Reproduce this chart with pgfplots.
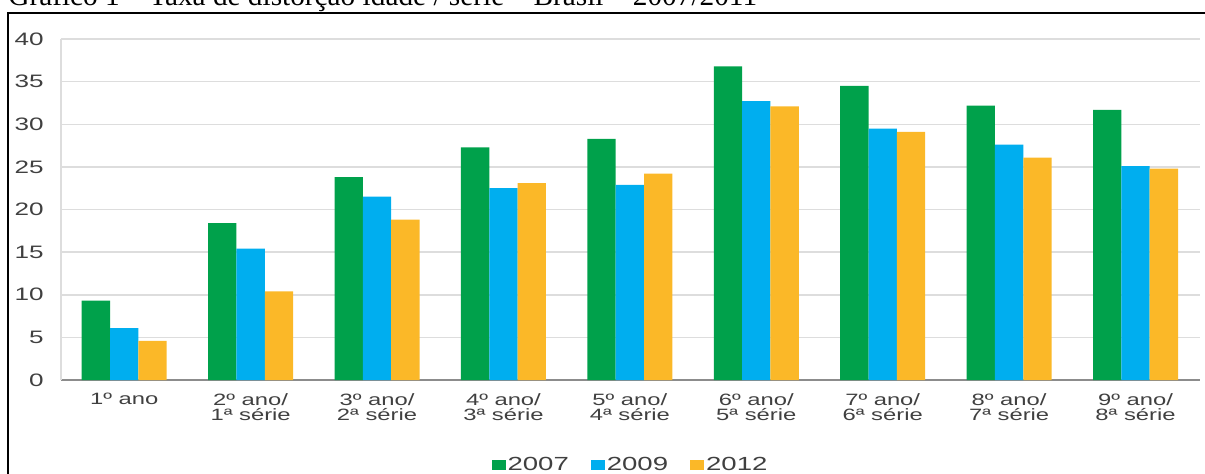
\documentclass[border=0pt]{standalone}
\usepackage{fontspec}
\setmainfont{Liberation Sans}[FakeStretch=1.45]
\newfontfamily\titlefont{Liberation Serif}
\usepackage{pgfplots}
\usepackage{pgfplotstable}
\pgfplotsset{compat=1.18}
\definecolor{cGreen}{RGB}{0,161,75}
\definecolor{cBlue}{RGB}{0,174,239}
\definecolor{cOrange}{RGB}{251,184,40}
\definecolor{cText}{RGB}{64,64,64}
\definecolor{cGrid}{RGB}{221,221,221}
\definecolor{cAxis}{RGB}{140,140,140}
\pgfplotstableread{
cat y2007 y2009 y2012
0 9.3 6.1 4.6
1 18.4 15.4 10.4
2 23.8 21.5 18.8
3 27.3 22.5 23.1
4 28.3 22.9 24.2
5 36.8 32.7 32.1
6 34.5 29.5 29.1
7 32.2 27.6 26.1
8 31.7 25.1 24.8
}\datatable
\begin{document}
\begin{tikzpicture}[x=0.5pt,y=0.5pt]
\path[use as bounding box] (0,0) rectangle (1205,473);
\begin{axis}[
  at={(30.5pt,46.5pt)}, anchor=south west,
  scale only axis, width=569.5pt, height=170.5pt,
  xmin=-0.5, xmax=8.51, ymin=0, ymax=40,
  ybar=0pt, bar width=0.224,
  xtick={0,...,8},
  xticklabels={1º ano, 2º ano/\\1ª série, 3º ano/\\2ª série, 4º ano/\\3ª série, 5º ano/\\4ª série, 6º ano/\\5ª série, 7º ano/\\6ª série, 8º ano/\\7ª série, 9º ano/\\8ª série},
  ytick={0,5,...,40},
  /pgf/number format/assume math mode=true,
  major tick length=0pt,
  ymajorgrids, grid style={cGrid, line width=0.75pt},
  axis x line*=bottom, axis y line*=left,
  x axis line style={-, cAxis, line width=0.75pt},
  y axis line style={-, cGrid, line width=0.75pt},
  xticklabel style={font=\fontsize{8.2}{7.8}\selectfont, text=cText, align=center, anchor=north, inner sep=0pt, yshift=-6.5pt},
  yticklabel style={font=\fontsize{9}{9}\selectfont, text=cText, anchor=east, inner sep=0pt, xshift=-8.5pt},
  legend style={at={(0.5,-0.249)}, anchor=center, draw=none, fill=none,
    legend columns=3, font=\fontsize{9.5}{9.5}\selectfont, text=cText,
    /tikz/every even column/.append style={column sep=10pt},
    nodes={inner sep=1pt}},
  legend image code/.code={\fill[#1] (0pt,-2.5pt) rectangle (7pt,2.5pt);},
]
\addplot[fill=cGreen, draw=none] table[x=cat, y=y2007] {\datatable};
\addplot[fill=cBlue, draw=none] table[x=cat, y=y2009] {\datatable};
\addplot[fill=cOrange, draw=none] table[x=cat, y=y2012] {\datatable};
\legend{2007, 2009, 2012}
\end{axis}
\node[anchor=base west, font=\titlefont\fontsize{14.65}{16}\selectfont, inner sep=0pt] at (8,468) {Gráfico 1 – Taxa de distorção idade / série – Brasil – 2007/2011};
\draw[line width=1pt] (8,-20) -- (8,460) -- (1230,460);
\end{tikzpicture}
\end{document}
